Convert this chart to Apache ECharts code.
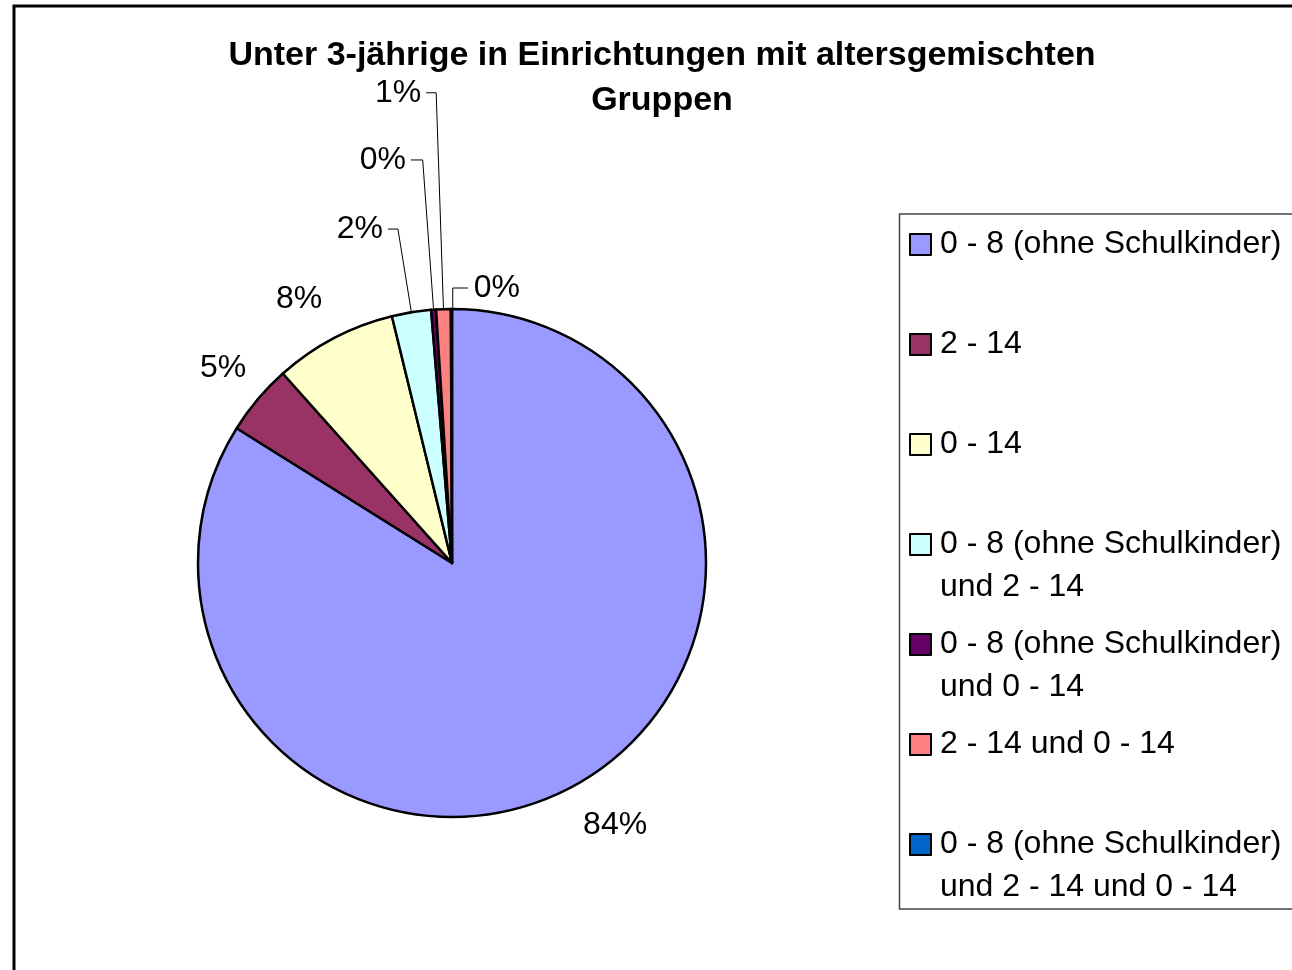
<!DOCTYPE html>
<html>
<head>
<meta charset="utf-8">
<script src="https://cdn.jsdelivr.net/npm/echarts@6/dist/echarts.min.js"></script>
<style>
html,body{margin:0;padding:0;background:#fff;}
#chart{width:1292px;height:970px;}
</style>
</head>
<body>
<div id="chart"></div>
<script>
// ---- data ----
const titleText = 'Unter 3-jährige in Einrichtungen mit altersgemischten\nGruppen';
const categories = [
  '0 - 8 (ohne Schulkinder)',
  '2 - 14',
  '0 - 14',
  '0 - 8 (ohne Schulkinder) und 2 - 14',
  '0 - 8 (ohne Schulkinder) und 0 - 14',
  '2 - 14 und 0 - 14',
  '0 - 8 (ohne Schulkinder) und 2 - 14 und 0 - 14'
];
const shares = [83.9, 4.5, 7.8, 2.49, 0.31, 0.93, 0.07];
const colors = ['#9999FF', '#993366', '#FFFFCC', '#CCFFFF', '#660066', '#FF8080', '#0066CC'];

// ---- label styling (leader geometry per slice) ----
const labelStyle = [
  { show: false, length: 45.5, length2: -19 },
  { show: false, length: 48, length2: -30 },
  { show: false, length: 44.5, length2: -14 },
  { show: true, length: 84.3, length2: 10 },
  { show: true, length: 150.1, length2: 11.7 },
  { show: true, length: 216.5, length2: 10 },
  { show: true, length: 21, length2: 15 }
];

const FONT = '"Liberation Sans", Arial, sans-serif';

const chart = echarts.init(document.getElementById('chart'), null, { renderer: 'canvas' });

const pieData = categories.map((name, i) => ({
  name: name,
  value: shares[i],
  itemStyle: { color: colors[i] },
  labelLine: { show: labelStyle[i].show, length: labelStyle[i].length, length2: labelStyle[i].length2 }
}));

const option = {
  animation: false,
  backgroundColor: '#fff',
  title: {
    text: titleText,
    left: 662,
    top: 33,
    padding: 0,
    textAlign: 'center',
    textStyle: { fontFamily: FONT, fontSize: 34, fontWeight: 'bold', color: '#000', lineHeight: 45 }
  },
  legend: {
    orient: 'vertical',
    left: 909,
    top: 180,
    padding: 0,
    itemGap: -29,
    itemWidth: 21,
    itemHeight: 21,
    icon: 'rect',
    selectedMode: false,
    data: categories,
    itemStyle: { borderColor: '#000', borderWidth: 2 },
    formatter: function (name) {
      const t = name.replace('(ohne Schulkinder) und ', '(ohne Schulkinder)\nund ');
      // three text lines: blank, first line (level with the icon), second line
      return '\n' + (t.indexOf('\n') >= 0 ? t : t + '\n');
    },
    textStyle: { fontFamily: FONT, fontSize: 32, color: '#000', lineHeight: 43, padding: [0, 0, 0, 4] }
  },
  graphic: [
    { type: 'rect', silent: true, z: 100, shape: { x: 14, y: 6, width: 1400, height: 1100 }, style: { fill: 'none', stroke: '#000', lineWidth: 3 } },
    { type: 'rect', silent: true, z: 100, shape: { x: 899.5, y: 214, width: 500, height: 695 }, style: { fill: 'none', stroke: '#444', lineWidth: 1.5 } }
  ],
  series: [{
    type: 'pie',
    center: [452, 563],
    radius: 254,
    startAngle: 90,
    clockwise: true,
    avoidLabelOverlap: false,
    percentPrecision: 2,
    silent: true,
    itemStyle: { borderColor: '#000', borderWidth: 2.5 },
    emphasis: { disabled: true },
    label: {
      show: true,
      position: 'outside',
      fontFamily: FONT,
      fontSize: 32,
      color: '#000',
      distanceToLabelLine: 5,
      formatter: p => Math.round(p.percent) + '%'
    },
    labelLine: { lineStyle: { color: '#000', width: 1 }, minTurnAngle: 0, maxSurfaceAngle: 180 },
    labelLayout: function (params) {
      if (params.dataIndex !== 6 || !params.labelLinePoints) return;
      const p0 = params.labelLinePoints[0];
      const rise = 21, run = 15, gap = 6;
      const bx = p0[0] + 1.3;
      return {
        x: bx + run + gap,
        y: p0[1] - rise,
        align: 'left',
        verticalAlign: 'middle',
        labelLinePoints: [[bx, p0[1]], [bx, p0[1] - rise], [bx + run, p0[1] - rise]]
      };
    },
    data: pieData
  }]
};

chart.setOption(option);
</script>
</body>
</html>
